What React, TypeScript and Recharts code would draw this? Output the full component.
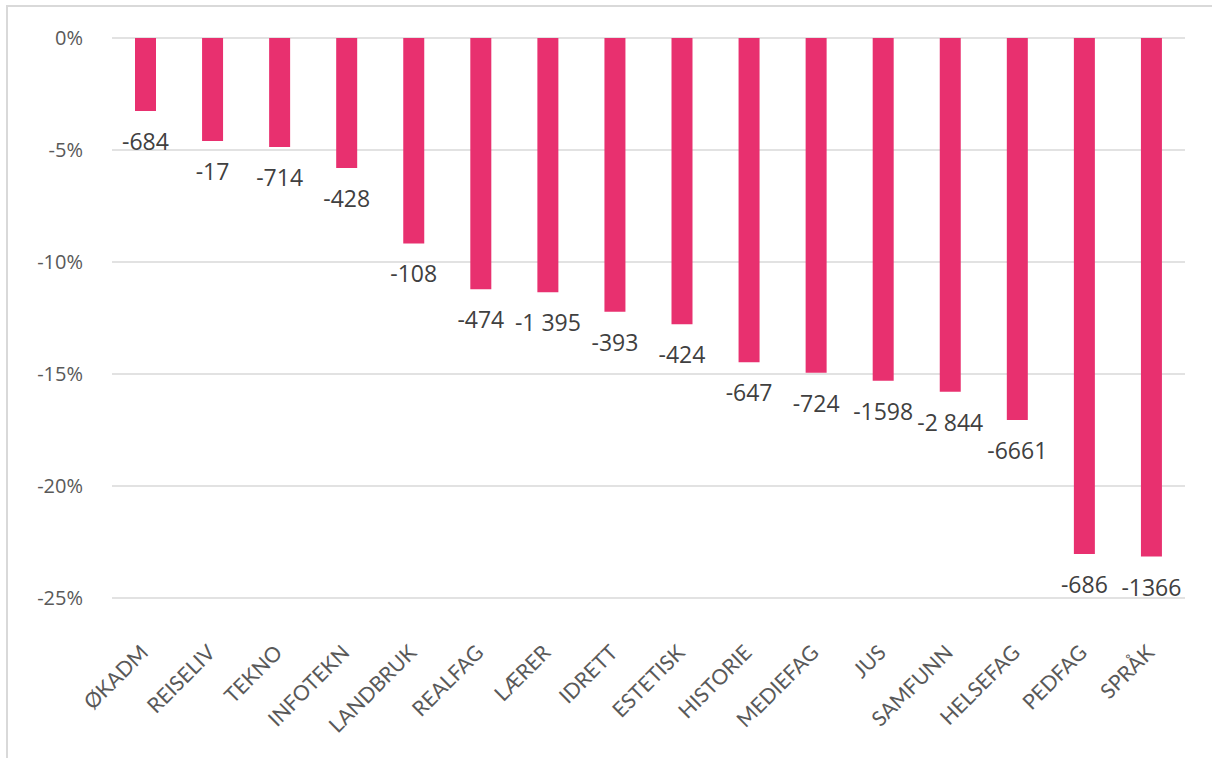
import React from 'react';
import { BarChart, Bar, XAxis, YAxis, CartesianGrid, LabelList } from 'recharts';

const categories = ['ØKADM', 'REISELIV', 'TEKNO', 'INFOTEKN', 'LANDBRUK', 'REALFAG', 'LÆRER', 'IDRETT', 'ESTETISK', 'HISTORIE', 'MEDIEFAG', 'JUS', 'SAMFUNN', 'HELSEFAG', 'PEDFAG', 'SPRÅK'];
const changePct = [-3.26, -4.6, -4.87, -5.8, -9.17, -11.22, -11.35, -12.22, -12.78, -14.48, -14.94, -15.3, -15.79, -17.05, -23.04, -23.15];
const changeCount = ['-684', '-17', '-714', '-428', '-108', '-474', '-1 395', '-393', '-424', '-647', '-724', '-1598', '-2 844', '-6661', '-686', '-1366'];
const yTicks = [0, -5, -10, -15, -20, -25];

const PINK = '#E8306F';
const FONT = '"Open Sans", "DejaVu Sans", sans-serif';

const chartData = categories.map((name, i) => ({
  name,
  pct: changePct[i],
  count: changeCount[i],
}));

// rotated category label, anchored at its end (y already includes tick size + margin)
const CategoryTick = (props: any) => {
  const { x, y, payload } = props;
  const ax = x + 4;
  const ay = y + 48;
  return (
    <text
      x={ax}
      y={ay}
      transform={`rotate(-45, ${ax}, ${ay})`}
      textAnchor="end"
      fontSize={21}
      fontFamily={'Lato, "DejaVu Sans", sans-serif'}
      fill="#595959"
    >
      {payload.value}
    </text>
  );
};

const CountLabel = (props: any) => {
  const { x, y, width, height, value } = props;
  const bottom = Math.max(y, y + height);
  return (
    <text
      x={x + width / 2}
      y={bottom + 39}
      textAnchor="middle"
      fontSize={23}
      fontFamily={FONT}
      fill="#404040"
    >
      {value}
    </text>
  );
};

export default function App() {
  return (
    <div style={{ position: 'fixed', left: 0, top: 0, width: 1212, height: 758, background: '#fff' }}>
      <div
        style={{
          position: 'fixed',
          left: 6,
          top: 5,
          width: 1230,
          height: 800,
          border: '2px solid #d9d9d9',
          boxSizing: 'border-box',
        }}
      />
      <div style={{ position: 'absolute', left: 0, top: 0 }}>
        <BarChart
          width={1212}
          height={758}
          data={chartData}
          margin={{ top: 38, right: 27, left: 12, bottom: 20 }}
          barCategoryGap={0}
        >
          <CartesianGrid vertical={false} stroke="#d9d9d9" strokeWidth={1.5} />
          <XAxis
            dataKey="name"
            axisLine={false}
            tickLine={false}
            interval={0}
            height={140}
            tick={<CategoryTick />}
          />
          <YAxis
            domain={[-25, 0]}
            ticks={yTicks}
            width={100}
            axisLine={false}
            tickLine={false}
            tickMargin={23}
            tickFormatter={(v: number) => `${v}%`}
            tick={{ fontSize: 20, fill: '#595959', fontFamily: FONT }}
          />
          <Bar dataKey="pct" fill={PINK} barSize={21} isAnimationActive={false}>
            <LabelList dataKey="count" content={<CountLabel />} />
          </Bar>
        </BarChart>
      </div>
    </div>
  );
}
